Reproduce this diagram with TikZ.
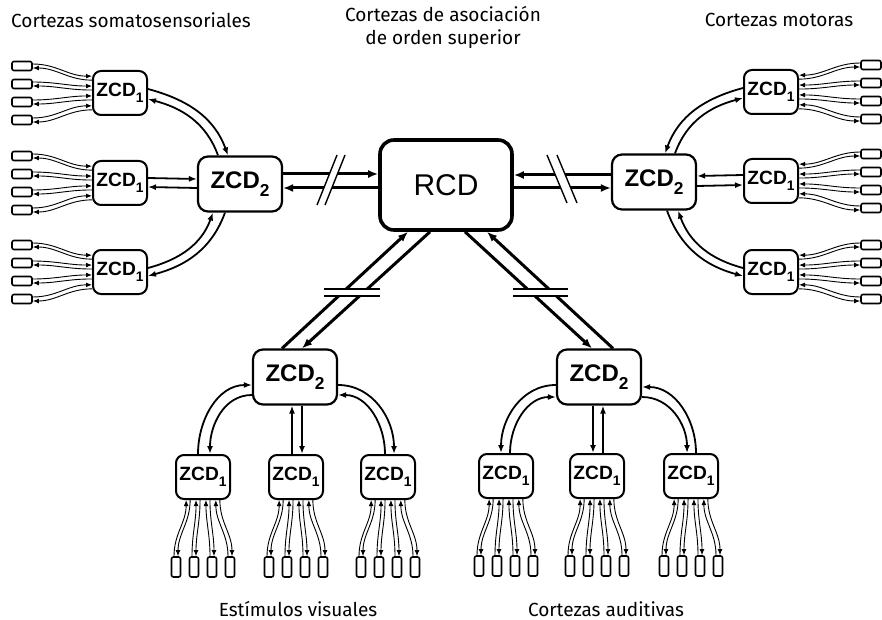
\documentclass[tikz,border=0pt]{standalone}
\usepackage{fontspec}
\setmainfont{Liberation Sans}
\newfontfamily\labelfont{Fira Sans}
\usetikzlibrary{arrows.meta, positioning}
\newcommand{\zsub}[1]{\raisebox{-0.6ex}{\scalebox{0.72}{#1}}}

\begin{document}
\begin{tikzpicture}[
    x=0.5pt, y=0.5pt,
    core/.style={rectangle, draw, rounded corners=7pt, line width=1.8pt, minimum width=66pt, minimum height=45pt, font=\fontsize{15}{17}\selectfont},
    zcdtwo/.style={rectangle, draw, rounded corners=5pt, line width=1.1pt, minimum width=42pt, minimum height=27.5pt, inner sep=0pt, font=\fontsize{12}{13}\selectfont\bfseries},
    zcdone/.style={rectangle, draw, rounded corners=4pt, line width=1pt, minimum width=27pt, minimum height=22pt, inner sep=0pt, font=\fontsize{9.6}{11}\selectfont\bfseries},
    hcell/.style={rectangle, draw, rounded corners=1pt, line width=0.8pt, minimum width=10pt, minimum height=4.5pt, inner sep=0pt},
    vcell/.style={hcell, minimum width=4.5pt, minimum height=10pt},
    wide/.style={line width=1.5pt, -{Latex[length=5pt,width=4pt]}},
    wide back/.style={line width=1.5pt, {Latex[length=5pt,width=4pt]}-},
    mid/.style={line width=0.9pt, -{Latex[length=4pt,width=3pt]}},
    mid back/.style={line width=0.9pt, {Latex[length=4pt,width=3pt]}-},
    fine/.style={line width=0.45pt, -{Latex[length=3pt,width=2.4pt]}},
    fine back/.style={line width=0.45pt, {Latex[length=3pt,width=2.4pt]}-},
    cutline/.style={line width=0.7pt},
    title/.style={font=\labelfont\fontsize{9.5}{11.5}\selectfont, align=center}
]
\useasboundingbox (0,0) rectangle (882,-620);

% Central node
\node[core] (rcd) at (446,-185) {RCD};

% Second level zones
\node[zcdtwo] (zl) at (240,-184) {ZCD\zsub{2}};
\node[zcdtwo] (zr) at (654,-182) {ZCD\zsub{2}};
\node[zcdtwo] (zbl) at (295,-377) {ZCD\zsub{2}};
\node[zcdtwo] (zbr) at (599,-377) {ZCD\zsub{2}};

% First level zones
\foreach \n/\y in {1/93,2/183,3/272} {
    \node[zcdone] (l\n) at (120,-\y) {ZCD\zsub{1}};
}
\foreach \n/\y in {1/92,2/181,3/272} {
    \node[zcdone] (r\n) at (771,-\y) {ZCD\zsub{1}};
}
\foreach \n/\x in {1/203,2/296,3/388} {
    \node[zcdone] (v\n) at (\x,-477) {ZCD\zsub{1}};
}
\foreach \n/\x in {1/506,2/597,3/691} {
    \node[zcdone] (a\n) at (\x,-476) {ZCD\zsub{1}};
}

% Sensory / motor cells and their links
\foreach \n in {1,2,3} {
    \foreach \k/\o in {1/27,2/9,3/-9,4/-27} {
        \node[hcell] (l\n c\k) at ([shift={(-98,\o)}]l\n.center) {};
        \draw[fine] ([shift={(0,2)}]l\n c\k.east) to[out=0,in=180] ([shift={(0,0.55*\o+2)}]l\n.west);
        \draw[fine back] ([shift={(0,-2)}]l\n c\k.east) to[out=0,in=180] ([shift={(0,0.55*\o-2)}]l\n.west);
        \node[hcell] (r\n c\k) at ([shift={(100,\o)}]r\n.center) {};
        \draw[fine] ([shift={(0,2)}]r\n c\k.west) to[out=180,in=0] ([shift={(0,0.55*\o+2)}]r\n.east);
        \draw[fine back] ([shift={(0,-2)}]r\n c\k.west) to[out=180,in=0] ([shift={(0,0.55*\o-2)}]r\n.east);
    }
}
\foreach \n in {1,2,3} {
    \foreach \k/\o in {1/-27,2/-9,3/9,4/27} {
        \node[vcell] (v\n c\k) at ([shift={(\o,-90)}]v\n.center) {};
        \draw[fine] ([shift={(-2,0)}]v\n c\k.north) to[out=90,in=-90] ([shift={(0.55*\o-2,0)}]v\n.south);
        \draw[fine back] ([shift={(2,0)}]v\n c\k.north) to[out=90,in=-90] ([shift={(0.55*\o+2,0)}]v\n.south);
        \node[vcell] (a\n c\k) at ([shift={(\o,-90)}]a\n.center) {};
        \draw[fine] ([shift={(-2,0)}]a\n c\k.north) to[out=90,in=-90] ([shift={(0.55*\o-2,0)}]a\n.south);
        \draw[fine back] ([shift={(2,0)}]a\n c\k.north) to[out=90,in=-90] ([shift={(0.55*\o+2,0)}]a\n.south);
    }
}

% ZCD1 <-> ZCD2, left
\draw[mid] ([shift={(0,4)}]l1.east) to[out=-15,in=110] ([shift={(-12,0)}]zl.north);
\draw[mid back] ([shift={(0,-6)}]l1.east) to[out=-15,in=110] ([shift={(-22,0)}]zl.north);
\draw[mid] ([shift={(0,5)}]l2.east) -- ([shift={(0,5)}]zl.west);
\draw[mid back] ([shift={(0,-4)}]l2.east) -- ([shift={(0,-4)}]zl.west);
\draw[mid] ([shift={(0,4)}]l3.east) to[out=15,in=-110] ([shift={(-27,0)}]zl.south);
\draw[mid back] ([shift={(0,-4)}]l3.east) to[out=15,in=-110] ([shift={(-15,0)}]zl.south);

% ZCD1 <-> ZCD2, right
\draw[mid] ([shift={(0,4)}]r1.west) to[out=195,in=70] ([shift={(11,0)}]zr.north);
\draw[mid back] ([shift={(0,-6)}]r1.west) to[out=195,in=70] ([shift={(21,0)}]zr.north);
\draw[mid] ([shift={(0,6)}]r2.west) -- ([shift={(0,6)}]zr.east);
\draw[mid back] ([shift={(0,-4)}]r2.west) -- ([shift={(0,-4)}]zr.east);
\draw[mid] ([shift={(0,4)}]r3.west) to[out=165,in=-70] ([shift={(24,0)}]zr.south);
\draw[mid back] ([shift={(0,-4)}]r3.west) to[out=165,in=-70] ([shift={(13,0)}]zr.south);

% ZCD1 <-> ZCD2, visual
\draw[mid] ([shift={(-5,0)}]v1.north) to[out=90,in=180] ([shift={(0,-8)}]zbl.west);
\draw[mid back] ([shift={(7,0)}]v1.north) to[out=90,in=180] ([shift={(0,-18)}]zbl.west);
\draw[mid] ([shift={(-4,0)}]v2.north) -- ([shift={(-3,0)}]zbl.south);
\draw[mid back] ([shift={(6,0)}]v2.north) -- ([shift={(7,0)}]zbl.south);
\draw[mid] ([shift={(-3,0)}]v3.north) to[out=90,in=0] ([shift={(0,-18)}]zbl.east);
\draw[mid back] ([shift={(6,0)}]v3.north) to[out=90,in=0] ([shift={(0,-8)}]zbl.east);

% ZCD1 <-> ZCD2, auditory
\draw[mid back] ([shift={(-5,0)}]a1.north) to[out=90,in=180] ([shift={(0,-8)}]zbr.west);
\draw[mid] ([shift={(4,0)}]a1.north) to[out=90,in=180] ([shift={(0,-20)}]zbr.west);
\draw[mid back] ([shift={(-4,0)}]a2.north) -- ([shift={(-6,0)}]zbr.south);
\draw[mid] ([shift={(6,0)}]a2.north) -- ([shift={(4,0)}]zbr.south);
\draw[mid back] ([shift={(-4,0)}]a3.north) to[out=90,in=0] ([shift={(0,-20)}]zbr.east);
\draw[mid] ([shift={(5,0)}]a3.north) to[out=90,in=0] ([shift={(0,-10)}]zbr.east);

% ZCD2 <-> RCD
\draw[wide] ([shift={(0,10)}]zl.east) -- ([shift={(0,11)}]rcd.west);
\draw[wide back] ([shift={(0,-4)}]zl.east) -- ([shift={(0,-3)}]rcd.west);
\draw[wide] ([shift={(0,7)}]zr.west) -- ([shift={(0,10)}]rcd.east);
\draw[wide back] ([shift={(0,-6)}]zr.west) -- ([shift={(0,-3)}]rcd.east);
\draw[wide] ([shift={(-13,0)}]zbl.north) -- ([shift={(-38,0)}]rcd.south);
\draw[wide back] ([shift={(7,0)}]zbl.north) -- ([shift={(-16,0)}]rcd.south);
\draw[wide back] ([shift={(-7,0)}]zbr.north) -- ([shift={(19,0)}]rcd.south);
\draw[wide] ([shift={(14,0)}]zbr.north) -- ([shift={(41,0)}]rcd.south);

% Breaks
\fill[white] (317,-205) -- (337,-155) -- (345,-155) -- (325,-205) -- cycle;
\draw[cutline] (317,-205) -- (337,-155) (325,-205) -- (345,-155);
\fill[white] (547,-155) -- (567,-203) -- (577,-203) -- (557,-155) -- cycle;
\draw[cutline] (547,-155) -- (567,-203) (557,-155) -- (577,-203);
\fill[white] (324,-289) rectangle (380,-296);
\draw[cutline] (324,-289) -- (380,-289) (324,-296) -- (380,-296);
\fill[white] (513,-289) rectangle (568,-296);
\draw[cutline] (513,-289) -- (568,-289) (513,-296) -- (568,-296);

% Labels
\node[title] (somato) at (131,-20) {Cortezas somatosensoriales};
\node[title] (assoc) at (443,-27) {Cortezas de asociación\\de orden superior};
\node[title] (motor) at (779,-20) {Cortezas motoras};
\node[title] (visual) at (298,-609) {Estímulos visuales};
\node[title] (audit) at (606,-609) {Cortezas auditivas};

\end{tikzpicture}
\end{document}
